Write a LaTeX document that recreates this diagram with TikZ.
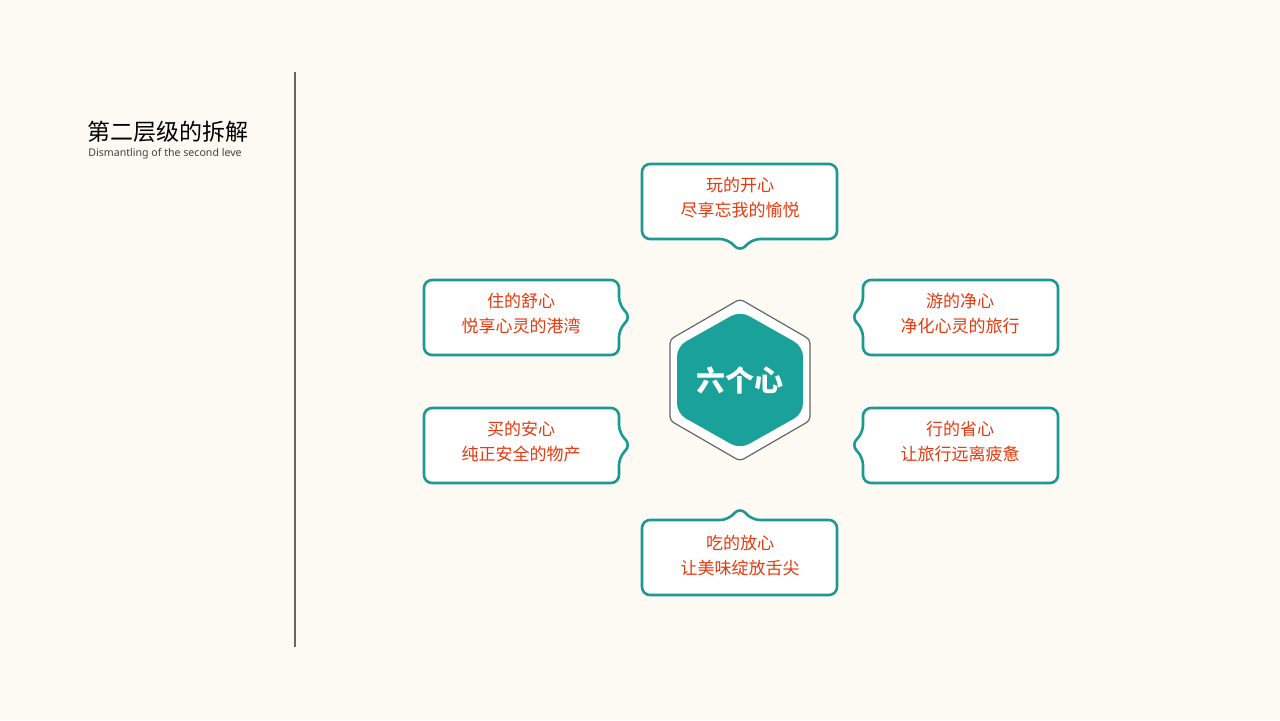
\documentclass[tikz,border=0pt]{standalone}
\usepackage{fontspec}
\setmainfont{Noto Sans}
\newfontfamily\cjk{Noto Sans CJK SC}
\definecolor{bgcol}{HTML}{FCFAF3}
\definecolor{tealline}{HTML}{1A9A93}
\definecolor{tealfill}{HTML}{1AA19A}
\definecolor{redtext}{HTML}{E8380D}
\tikzset{
  bubble/.style={draw=tealline, line width=1.3pt, fill=white, rounded corners=4pt, line join=round},
  bubbletext/.style={text=redtext, font=\cjk\fontsize{8.5}{12.5}\selectfont, align=center},
}
\begin{document}
\begin{tikzpicture}[x=0.5pt,y=-0.5pt]
\fill[bgcol] (0,0) rectangle (1280,720);
\useasboundingbox (0,0) rectangle (1280,720);
% titulo
\node[anchor=south west, inner sep=0pt, font=\cjk\fontsize{11.5}{12}\selectfont] (title) at (87,143) {第二层级的拆解};
\node[anchor=north west, inner sep=0pt, font=\fontsize{5.3}{6}\selectfont, text=black!75] (subtitle) at (88,148) {Dismantling of the second leve};
\draw[black!60, line width=0.6pt] (295,72) -- (295,647);
% hexagono central
\draw[black!60, line width=0.6pt, fill=white, rounded corners=2pt]
  (740,299) -- (810,339.5) -- (810,420.5) -- (740,461) -- (670,420.5) -- (670,339.5) -- cycle;
\fill[tealfill, rounded corners=5pt]
  (740,311) -- (803,346.5) -- (803,413.5) -- (740,449) -- (677,413.5) -- (677,346.5) -- cycle;
\node[text=white, font=\cjk\bfseries\fontsize{14.5}{15}\selectfont] (center) at (740,380) {六个心};
% globos
\draw[bubble] (642,164) -- (837,164) -- (837,239) -- (752,239) -- (740,252) -- (728,239) -- (642,239) -- cycle;
\draw[bubble] (642,520) -- (728,520) -- (740,507) -- (752,520) -- (837,520) -- (837,595) -- (642,595) -- cycle;
\draw[bubble] (424,280) -- (619,280) -- (619,305) -- (631,317) -- (619,329) -- (619,355) -- (424,355) -- cycle;
\draw[bubble] (424,408) -- (619,408) -- (619,433) -- (631,445) -- (619,457) -- (619,483) -- (424,483) -- cycle;
\draw[bubble] (863,280) -- (1058,280) -- (1058,355) -- (863,355) -- (863,329) -- (851,317) -- (863,305) -- cycle;
\draw[bubble] (863,408) -- (1058,408) -- (1058,483) -- (863,483) -- (863,457) -- (851,445) -- (863,433) -- cycle;
% textos
\node[bubbletext] (play) at (740,198) {玩的开心\\尽享忘我的愉悦};
\node[bubbletext] (eat) at (740,556) {吃的放心\\让美味绽放舌尖};
\node[bubbletext] (live) at (521,314) {住的舒心\\悦享心灵的港湾};
\node[bubbletext] (buy) at (521,442) {买的安心\\纯正安全的物产};
\node[bubbletext] (tour) at (960,314) {游的净心\\净化心灵的旅行};
\node[bubbletext] (travel) at (960,442) {行的省心\\让旅行远离疲惫};
\end{tikzpicture}
\end{document}
